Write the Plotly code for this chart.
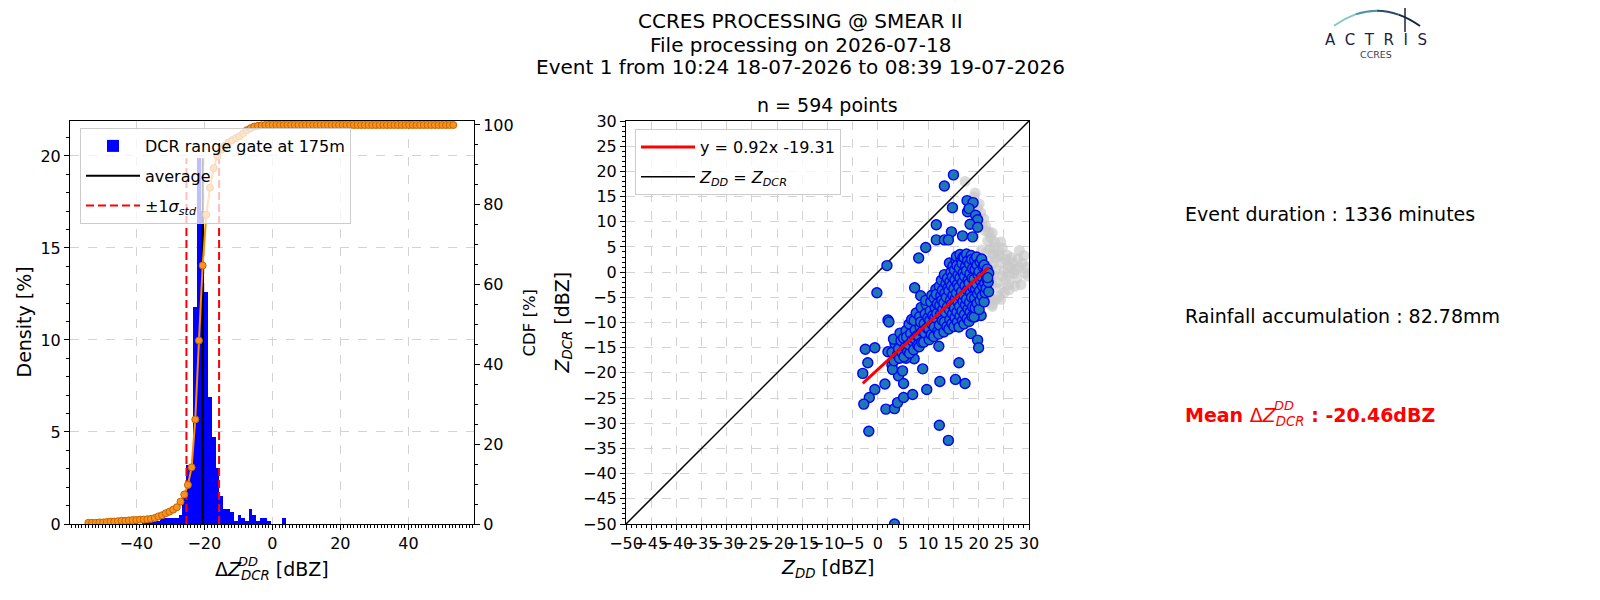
import numpy as np
import plotly.graph_objects as go

# ---------------- histogram of delta Z (DCR - DD), 100 bins ----------------
bin_lo, bin_hi, n_bins = -54.64, 53.76, 100
density_pct = [
    0.17, 0, 0, 0, 0, 0.17, 0, 0, 0.17, 0,
    0, 0.17, 0, 0.17, 0, 0.17, 0.17, 0.17, 0.34, 0.17,
    0.34, 0.34, 0.34, 0.34, 0.34, 0.51, 1.52, 3.20, 3.20, 11.78,
    19.87, 17.00, 12.63, 6.90, 4.71, 3.03, 1.52, 0.84, 0.84, 0.67,
    0.17, 0.51, 0.34, 0.17, 0.84, 0.51, 0.17, 0.34, 0.34, 0.17,
    0, 0, 0, 0.34, 0, 0, 0, 0, 0, 0,
    0, 0, 0, 0, 0, 0, 0, 0, 0, 0,
    0, 0, 0, 0, 0, 0, 0, 0, 0, 0,
    0, 0, 0, 0, 0, 0, 0, 0, 0, 0,
    0, 0, 0, 0, 0, 0, 0, 0, 0, 0,
]
cdf_pct = [
    0.3, 0.3, 0.3, 0.4, 0.4, 0.5, 0.6, 0.6, 0.7, 0.8,
    0.8, 0.9, 1.0, 1.0, 1.1, 1.1, 1.2, 1.3, 1.5, 1.9,
    2.2, 2.7, 3.1, 3.6, 4.2, 5.6, 7.4, 9.8, 14.2, 26.2,
    46.0, 64.8, 77.5, 84.3, 89.2, 92.2, 93.8, 94.8, 95.6, 96.2,
    96.7, 97.2, 97.9, 98.7, 99.2, 99.6, 99.8, 99.9, 100, 100,
    100, 100, 100, 100, 100, 100, 100, 100, 100, 100,
    100, 100, 100, 100, 100, 100, 100, 100, 100, 100,
    100, 100, 100, 100, 100, 100, 100, 100, 100, 100,
    100, 100, 100, 100, 100, 100, 100, 100, 100, 100,
    100, 100, 100, 100, 100, 100, 100, 100, 100, 100,
]
dz_mean = -20.46
dz_std = 4.80

# ---------------- scatter Z_DD vs Z_DCR ----------------
# grey = all matched points, blue = points kept for the fit
zdd_all = [17.3, 19.3, 19.1, 20.1, 20.4, 19.8, 21.0, 20.6, 21.4, 21.3, 22.0, 22.7, 22.4, 21.8,
           23.2, 24.7, 23.8, 22.9, 24.1, 23.4, 25.4, 24.6, 26.7, 25.9, 27.4, 28.7, 29.3, 28.4,
           27.6, 26.4, 26.0, 25.4, 24.7, 23.4, 22.8, 23.0, 22.6, 23.7, 24.2, 26.0, 25.1, 24.1,
           22.7, 22.4, 23.4, 24.4, 22.7, 21.7, 21.9, 22.4, 21.9, 23.1, 25.0, 27.0, 28.0, 29.5,
           29.8, 27.8, 26.5, 25.6, 24.4, 26.0, 27.2, 22.2, 21.5, 20.6, 28.1, 29.0]
zdcr_all = [18.0, 15.7, 14.9, 13.5, 11.8, 12.6, 10.6, 9.4, 9.1, 8.2, 7.9, 7.8, 6.8, 6.2,
            6.0, 4.8, 4.1, 3.6, 3.2, 2.8, 2.5, 1.9, 1.8, 1.2, 0.5, 1.8, -0.2, -2.5,
            -1.2, 0.8, -0.5, -1.5, -0.8, 0.5, 1.5, -0.6, -2.3, -2.1, -3.3, -3.5, -4.0, -4.8,
            -6.4, -5.4, -5.5, -5.4, -6.8, -5.0, -3.0, -0.9, 2.2, 4.9, 0.3, -0.2, 0.9, 1.0,
            -0.8, 2.6, 2.9, 3.4, 6.0, -2.5, -2.8, 4.6, 3.9, 4.4, 4.3, 3.3]

zdd = [
    # isolated points
    15.0, 13.2, 14.8, 17.7, 18.9, 17.8, 18.1, 19.4, 19.8, 18.3, 19.8, 11.6, 14.6, 16.8,
    18.8, 11.6, 13.2, 14.0, 9.5, 8.1, 1.8, -0.2, 7.3, 8.5, 2.0, 2.2, -2.5, -0.6,
    -2.0, -3.0, -0.6, -1.7, -2.8, -1.8, 1.4, 1.6, 3.3, 3.9, 5.1, 6.9, 4.1, 5.1,
    8.9, 9.7, 12.2, 14.0, 12.3, 15.4, 17.3, 16.1, 3.3, 3.3, 2.0, 5.1, 18.5, 19.8,
    20.0, 19.4, 20.5, 12.1, 7.2, 5.6, 2.8, 2.9, 4.9,
    # main cloud
    3.2, 2.8, 3.4, 3.9, 3.1,
    4.3, 4.1, 4.6, 4.4, 4.8,
    5.2, 5.4, 5.1, 5.6, 5.9, 5.7,
    6.3, 6.1, 6.5, 6.2, 6.8, 6.7,
    7.1, 7.3, 7.4, 7.2, 7.6, 7.8, 7.9,
    8.2, 8.1, 8.4, 8.3, 8.6, 8.8, 8.7, 8.5,
    9.1, 9.3, 9.2, 9.4, 9.6, 9.7, 9.9, 9.5,
    10.2, 10.1, 10.3, 10.4, 10.5, 10.7, 10.8, 10.9, 10.6,
    11.1, 11.2, 11.3, 11.4, 11.2, 11.5, 11.8, 11.7, 11.9, 11.6,
    12.1, 12.2, 12.4, 12.3, 12.5, 12.2, 12.6, 12.8, 12.9, 12.7, 12.8,
    13.1, 13.2, 13.4, 13.1, 13.3, 13.5, 13.2, 13.7, 13.8, 13.9, 13.6, 13.8,
    14.1, 14.3, 14.2, 14.4, 14.1, 14.3, 14.5, 14.2, 14.7, 14.8, 14.9, 14.6, 14.8, 14.9, 14.6,
    15.1, 15.3, 15.2, 15.4, 15.1, 15.3, 15.2, 15.5, 15.6, 15.8, 15.7, 15.9, 15.6, 15.8, 15.9, 15.7,
    16.1, 16.3, 16.2, 16.4, 16.1, 16.3, 16.2, 16.5, 16.3, 16.8, 16.7, 16.9, 16.6, 16.8, 16.9, 16.7, 16.9,
    17.1, 17.2, 17.4, 17.1, 17.3, 17.2, 17.4, 17.1, 17.6, 17.7, 17.9, 17.6, 17.8, 17.9, 17.6, 17.8,
    18.1, 18.3, 18.2, 18.4, 18.1, 18.3, 18.2, 18.5, 18.7, 18.8, 18.6, 18.9, 18.7, 18.8, 18.6,
    19.1, 19.3, 19.2, 19.4, 19.1, 19.3, 19.2, 19.6, 19.7, 19.8, 19.6, 19.9, 19.7,
    20.1, 20.3, 20.2, 20.4, 20.1, 20.3, 20.7, 20.8, 20.6, 20.9, 20.6,
    21.1, 21.3, 21.2, 21.4, 21.1, 21.6, 21.7, 21.5,
    22.0, 21.9, 22.0, 21.8,
]
zdcr = [
    19.3, 17.1, 12.8, 14.2, 13.8, 12.0, 12.6, 11.3, 10.4, 9.5, 8.9, 9.4, 8.0, 7.2,
    7.0, 6.4, 6.4, 6.4, 4.9, 2.8, 1.3, -4.1, -3.1, -4.7, -9.5, -9.9, -15.3, -15.0,
    -18.0, -20.1, -23.3, -24.9, -26.2, -31.6, -22.2, -27.2, -27.1, -25.9, -24.9, -24.3, -20.6, -22.1,
    -19.2, -23.3, -30.4, -33.4, -21.7, -21.3, -22.1, -18.0, -50.0, -13.4, -15.8, -12.4, -12.2, -13.5,
    -15.0, -8.8, -8.6, -14.7, -17.2, -17.1, -18.5, -19.3, -19.6,
    -17.6, -15.9, -14.2, -16.4, -13.3,
    -17.1, -15.2, -13.6, -12.1, -16.0,
    -16.8, -14.9, -13.1, -11.6, -15.7, -12.9,
    -16.1, -14.4, -12.2, -10.3, -13.6, -9.4,
    -15.4, -13.2, -11.5, -9.6, -8.1, -12.6, -14.5,
    -14.8, -12.7, -10.9, -8.8, -7.0, -11.8, -13.9, -9.9,
    -13.9, -12.1, -10.2, -8.3, -6.4, -11.1, -9.1, -5.6,
    -13.4, -11.3, -9.6, -7.7, -5.9, -4.6, -10.4, -8.6, -12.4,
    -12.8, -10.9, -9.0, -7.1, -5.2, -3.4, -6.3, -8.2, -11.7, -4.4,
    -12.3, -10.5, -8.4, -6.6, -4.7, -2.8, -1.6, -9.6, -7.4, -5.6, -3.6,
    -11.9, -9.9, -8.0, -6.1, -4.2, -2.3, -0.5, -10.8, -6.9, -3.1, -5.0, -1.2,
    -11.3, -9.4, -7.5, -5.6, -3.7, -1.9, 0.0, 1.8, -10.2, -8.3, -4.6, -2.7, -0.9, 1.2, -6.4,
    -10.8, -9.0, -7.1, -5.2, -3.3, -1.5, 0.4, 2.3, 3.1, -9.9, -7.9, -6.0, -4.2, -2.4, -0.6, 1.3,
    -10.9, -8.7, -6.8, -4.9, -3.0, -1.1, 0.8, 2.6, 3.5, -9.6, -7.7, -5.8, -3.9, -2.0, -0.2, 1.7, 3.0,
    -10.3, -8.4, -6.5, -4.6, -2.7, -0.8, 1.1, 2.9, 3.6, -9.2, -7.3, -5.4, -3.5, -1.6, 0.3, 2.2,
    -9.8, -7.9, -6.0, -4.1, -2.2, -0.3, 1.6, 3.3, -8.8, -6.9, -5.0, -3.1, -1.2, 0.7, 2.5,
    -8.9, -7.1, -5.2, -3.3, -1.4, 0.5, 2.4, 3.0, -6.2, -4.3, -2.4, -0.5, 1.4,
    -7.4, -5.6, -3.7, -1.8, 0.1, 2.0, -4.7, -2.8, -0.9, 1.0, 2.6,
    -5.9, -4.1, -2.2, -0.3, 1.4, -1.3, 0.6, -3.2,
    -3.9, -2.0, -0.2, -1.1,
]
fit_slope, fit_offset = 0.92, -19.31
n_points = 594
event_minutes = 1336
rain_mm = 82.78

edges = np.linspace(bin_lo, bin_hi, n_bins + 1)
centers = (edges[:-1] + edges[1:]) / 2
bin_w = edges[1] - edges[0]
peak = max(density_pct)

FONT = "DejaVu Sans"
# the page body keeps its default 8px margin, so the figure is made 16px smaller
# and every position below is given in window pixels
OFF = 8
W, H = 1600 - 2 * OFF, 600 - 2 * OFF


def px(x):
    return (x - OFF) / W


def py(y):
    return 1 - (y - OFF) / H


fig = go.Figure()

# --- left panel ---
fig.add_trace(go.Bar(
    x=centers, y=density_pct, width=bin_w,
    marker=dict(color="blue", line=dict(width=0)),
    name="DCR range gate at 175m", xaxis="x", yaxis="y",
    legend="legend", legendgroup="g1",
))
fig.add_trace(go.Scatter(
    x=[dz_mean, dz_mean], y=[0, peak], mode="lines",
    line=dict(color="black", width=2), name="average",
    xaxis="x", yaxis="y", legend="legend", legendgroup="g2",
))
lo, hi = dz_mean - dz_std, dz_mean + dz_std
fig.add_trace(go.Scatter(
    x=[lo, lo, None, hi, hi], y=[0, peak, None, 0, peak], mode="lines",
    line=dict(color="red", width=2, dash="8px,4px"),
    name="±1<i>σ</i><sub><i>std</i></sub>",
    xaxis="x", yaxis="y", legend="legend", legendgroup="g3",
))
fig.add_trace(go.Scatter(
    x=centers, y=cdf_pct, mode="lines+markers",
    line=dict(color="darkorange", width=2),
    marker=dict(size=7, color="#f7931e", line=dict(color="#c86400", width=1)),
    xaxis="x", yaxis="y2", showlegend=False,
))

# --- right panel ---
fig.add_trace(go.Scatter(
    x=zdd_all, y=zdcr_all, mode="markers",
    marker=dict(size=11, color="rgba(200,200,200,0.65)", line=dict(width=0)),
    xaxis="x2", yaxis="y3", showlegend=False,
))
fig.add_trace(go.Scatter(
    x=[-50, 30], y=[-50, 30], mode="lines",
    line=dict(color="black", width=1.5),
    name="<i>Z</i><sub><i>DD</i></sub> = <i>Z</i><sub><i>DCR</i></sub>",
    xaxis="x2", yaxis="y3", legend="legend2", legendrank=2, legendgroup="h2",
))
fig.add_trace(go.Scatter(
    x=zdd, y=zdcr, mode="markers",
    marker=dict(size=10, color="#1f77b4", line=dict(color="blue", width=1.4)),
    xaxis="x2", yaxis="y3", showlegend=False,
))
fx = np.array([min(zdd), max(zdd)])
fig.add_trace(go.Scatter(
    x=fx, y=fit_slope * fx + fit_offset, mode="lines",
    line=dict(color="red", width=3),
    name=f"y = {fit_slope:.2f}x {fit_offset:.2f}",
    xaxis="x2", yaxis="y3", legend="legend2", legendrank=1, legendgroup="h1",
))

axis_common = dict(
    showline=True, linecolor="black", linewidth=1,
    ticks="outside", ticklen=5, tickcolor="black",
    tickfont=dict(family=FONT, size=16, color="black"),
    gridcolor="#d3d3d3", griddash="dash", gridwidth=1,
    zeroline=False, automargin=False,
)
minor1 = dict(ticks="outside", ticklen=3, dtick=1, tickcolor="black", showgrid=False)
panel_y = [py(524), py(121)]

fig.update_layout(
    width=W, height=H,
    margin=dict(l=0, r=0, t=0, b=0, autoexpand=False),
    paper_bgcolor="white", plot_bgcolor="white",
    font=dict(family=FONT, color="black"),
    bargap=0,
    xaxis=dict(axis_common, domain=[px(70), px(474)], range=[-59.5, 59.3], anchor="y",
               tick0=0, dtick=20, mirror=True, showgrid=True, tickangle=0, minor=minor1),
    yaxis=dict(axis_common, domain=panel_y, range=[0, 21.9], anchor="x",
               tick0=0, dtick=5, showgrid=True, minor=minor1),
    yaxis2=dict(axis_common, overlaying="y", side="right", anchor="x", range=[0, 101],
                tick0=0, dtick=20, showgrid=False, minor=dict(minor1, dtick=5)),
    xaxis2=dict(axis_common, domain=[px(626), px(1029)], range=[-50, 30], anchor="y3",
                tick0=0, dtick=5, mirror=True, showgrid=True, tickangle=0, minor=minor1),
    yaxis3=dict(axis_common, domain=panel_y, range=[-50, 30], anchor="x2",
                tick0=0, dtick=5, mirror=True, showgrid=True, minor=minor1),
    legend=dict(x=px(80), y=py(128), xanchor="left", yanchor="top",
                bgcolor="rgba(255,255,255,0.75)", bordercolor="#cccccc", borderwidth=1,
                tracegroupgap=6, itemwidth=54,
                font=dict(family=FONT, size=16, color="black")),
    legend2=dict(x=px(635), y=py(129), xanchor="left", yanchor="top",
                 bgcolor="rgba(255,255,255,0.8)", bordercolor="#cccccc", borderwidth=1,
                 tracegroupgap=6, itemwidth=54,
                 font=dict(family=FONT, size=16, color="black")),
    showlegend=True,
)


def note(text, x, y, size, color="black", xanchor="center", yanchor="middle", **kw):
    fig.add_annotation(text=text, x=px(x), y=py(y), xref="paper", yref="paper",
                       xanchor=xanchor, yanchor=yanchor, showarrow=False,
                       font=dict(family=FONT, size=size, color=color), **kw)


# figure title
note("CCRES PROCESSING @ SMEAR II", 800, 21, 20)
note("File processing on 2026-07-18", 800, 44.5, 20)
note("Event 1 from 10:24 18-07-2026 to 08:39 19-07-2026", 800, 67, 20)
note(f"n = {n_points} points", 827.5, 105, 19)

# axis titles
note("Δ<i>Z</i><sub><i>DCR</i></sub> [dBZ]", 272, 570, 19)
note("<i>DD</i>", 248, 561, 13)
note("Density [%]", 23, 322.5, 19, textangle=-90)
note("CDF [%]", 529, 322.5, 16.5, textangle=-90)
note("<i>Z</i><sub><i>DD</i></sub> [dBZ]", 827.5, 568, 19)
note("<i>Z</i><sub><i>DCR</i></sub> [dBZ]", 563, 322.5, 19, textangle=-90)

# side text
note(f"Event duration : {event_minutes} minutes", 1183, 214, 19, xanchor="left")
note(f"Rainfall accumulation : {rain_mm:.2f}mm", 1183, 316, 19, xanchor="left")
note(f"<b>Mean </b>Δ<i>Z</i><sub><i>DCR</i></sub><b> : {dz_mean:.2f}dBZ</b>", 1183, 416, 19,
     color="red", xanchor="left")
note("<i>DD</i>", 1284, 406, 13, color="red")

# ACTRIS logo (text + arc)
note("A\u00a0\u00a0C\u00a0\u00a0T\u00a0\u00a0R\u00a0\u00a0I\u00a0\u00a0S", 1375.5, 40.5, 15, color="#1b2140")
note("CCRES", 1376, 54.5, 9.5, color="#3a4050")
arc = [((1334, 25.7), (1344.75, 18.2), (1355.5, 14.4), "#86c6c0"),
       ((1355.5, 14.4), (1366.25, 10.7), (1377, 10.7), "#4c96a0"),
       ((1377, 10.7), (1387.75, 10.75), (1398.5, 14.6), "#2a4a6c"),
       ((1398.5, 14.6), (1409.25, 18.4), (1420, 26), "#1b2440")]
for p0, c, p1, col in arc:
    fig.add_shape(type="path", xref="paper", yref="paper",
                  path=f"M {px(p0[0])},{py(p0[1])} Q {px(c[0])},{py(c[1])} {px(p1[0])},{py(p1[1])}",
                  line=dict(color=col, width=2))
fig.add_shape(type="line", xref="paper", yref="paper",
              x0=px(1405), x1=px(1405), y0=py(1), y1=py(32),
              line=dict(color="#1b2440", width=1.5))

fig.write_html("out.html")
